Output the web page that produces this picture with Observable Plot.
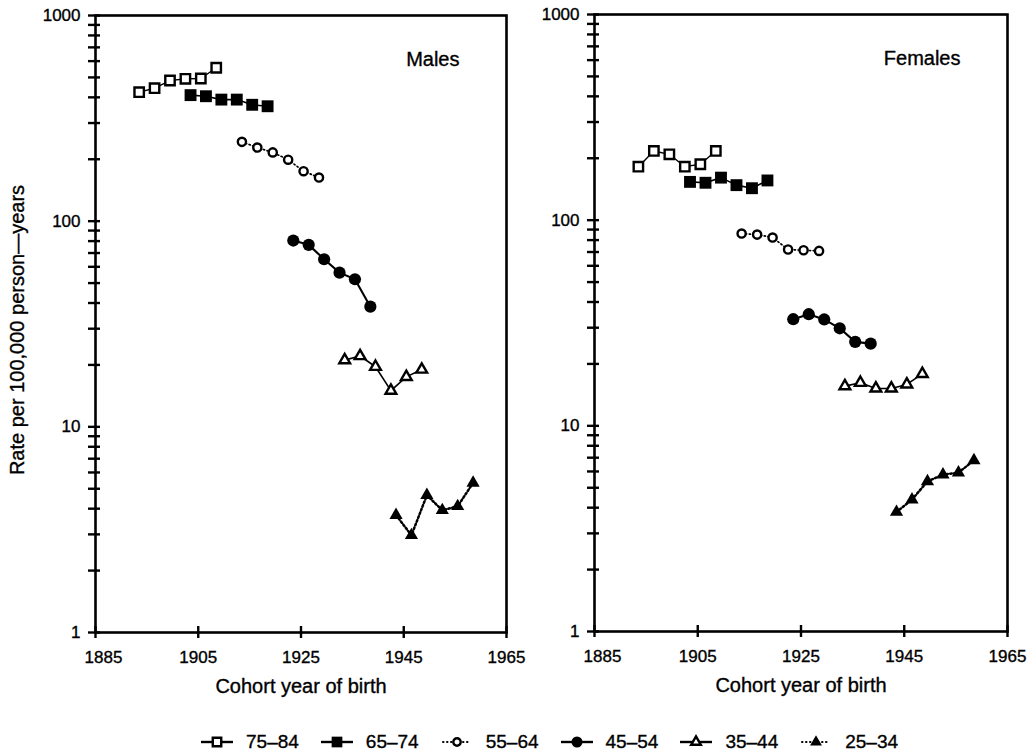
<!DOCTYPE html>
<html><head><meta charset="utf-8">
<script src="https://cdn.jsdelivr.net/npm/d3@7"></script>
<script src="https://cdn.jsdelivr.net/npm/@observablehq/plot@0.6"></script>
<style>
body{margin:0;background:#fff;font-family:"Liberation Sans",Arial,sans-serif;}
#wrap{position:relative;width:1031px;height:753px;overflow:hidden;}
#wrap svg text{stroke:#000;stroke-width:0.35px;}
#left{position:absolute;left:0;top:0}
#right{position:absolute;left:500px;top:0}
#legend{position:absolute;left:200px;top:731px;display:flex;align-items:center;font-size:19px;color:#000;white-space:nowrap;-webkit-text-stroke:0.35px #000;}
#legend .item{display:flex;align-items:center;margin-right:21px;}
#legend svg{margin-right:12px;overflow:visible}
</style></head><body>
<div id="wrap"><div id="left"></div><div id="right"></div><div id="legend"></div></div>
<script>
// ---- data ----
const ageGroups = ["75–84", "65–74", "55–64", "45–54", "35–44", "25–34"];
const panelTitles = ["Males", "Females"];

const years7584 = [1893.5, 1896.5, 1899.5, 1902.5, 1905.5, 1908.5];
const years6574 = [1903.5, 1906.5, 1909.5, 1912.5, 1915.5, 1918.5];
const years5564 = [1913.5, 1916.5, 1919.5, 1922.5, 1925.5, 1928.5];
const years4554 = [1923.5, 1926.5, 1929.5, 1932.5, 1935.5, 1938.5];
const years3544 = [1933.5, 1936.5, 1939.5, 1942.5, 1945.5, 1948.5];
const years2534 = [1943.5, 1946.5, 1949.5, 1952.5, 1955.5, 1958.5];

const males7584 = [424, 443, 483, 492, 494, 557];
const males6574 = [410, 405, 390, 390, 368, 362];
const males5564 = [243, 228, 216, 199, 175, 163];
const males4554 = [80.5, 76.7, 65.3, 56.2, 52.2, 38.4];
const males3544 = [21.1, 22.1, 19.6, 15.0, 17.5, 19.0];
const males2534 = [3.72, 2.97, 4.65, 3.93, 4.11, 5.34];

const females7584 = [182, 217, 209, 182, 187, 217];
const females6574 = [153.5, 152, 161, 148, 143, 156];
const females5564 = [86.1, 85.1, 82.3, 72, 71.4, 70.9];
const females4554 = [33.0, 34.9, 32.9, 29.8, 25.6, 25.1];
const females3544 = [15.6, 16.2, 15.2, 15.2, 15.9, 17.9];
const females2534 = [3.81, 4.38, 5.37, 5.79, 5.92, 6.79];

const xTickLabels = [1885, 1905, 1925, 1945, 1965];
const yTickLabels = [1, 10, 100, 1000];
const yMinorTicks = [2,3,4,5,6,7,8,9,20,30,40,50,60,70,80,90,200,300,400,500,600,700,800,900];
const xAxisLabel = "Cohort year of birth";
const yAxisLabel = "Rate per 100,000 person\u2014years";

// ---- styles ----
const seriesStyles = [
  {symbol: "square",   fill: "white", stroke: "black", sw: 2.4, r: 5.3, dash: null,      lw: 1.4},
  {symbol: "square",   fill: "black", stroke: "none",  sw: 0,   r: 6.7, dash: null,      lw: 1.6},
  {symbol: "circle",   fill: "white", stroke: "black", sw: 2.4, r: 4.1, dash: "1.2,2.6", lw: 1.7},
  {symbol: "circle",   fill: "black", stroke: "none",  sw: 0,   r: 6.1, dash: null,      lw: 2.1},
  {symbol: "triangle", fill: "white", stroke: "black", sw: 2.4, r: 4.0, dash: null,      lw: 1.6},
  {symbol: "triangle", fill: "black", stroke: "none",  sw: 0,   r: 4.9, dash: "1.6,2.4", lw: 2.5}
];

const cohortYears = [years7584, years6574, years5564, years4554, years3544, years2534];
const maleRates = [males7584, males6574, males5564, males4554, males3544, males2534];
const femaleRates = [females7584, females6574, females5564, females4554, females3544, females2534];

function panel(rates, title, cfg) {
  const innerW = cfg.width - cfg.marginLeft - cfg.marginRight;
  const innerH = cfg.height - cfg.marginTop - cfg.marginBottom;
  const marks = [];
  ageGroups.forEach((g, i) => {
    const data = cohortYears[i].map((x, k) => ({x, y: rates[i][k], age: g}));
    const s = seriesStyles[i];
    marks.push(Plot.line(data, {x: "x", y: "y", stroke: "black", strokeWidth: s.lw,
      strokeDasharray: s.dash, strokeLinecap: s.dash ? "round" : "butt"}));
  });
  ageGroups.forEach((g, i) => {
    const data = cohortYears[i].map((x, k) => ({x, y: rates[i][k], age: g}));
    const s = seriesStyles[i];
    marks.push(Plot.dot(data, {x: "x", y: "y", symbol: () => s.symbol, r: s.r, fill: s.fill,
      stroke: s.stroke, strokeWidth: s.sw}));
  });
  marks.push(
    Plot.frame({stroke: "black", strokeWidth: 2.6}),
    Plot.tickY(yTickLabels.concat(yMinorTicks), {y: d => d, dx: -7, insetRight: innerW - 12, stroke: "black", strokeWidth: 2.4}),
    Plot.tickX(xTickLabels, {x: d => d, dy: 6, insetTop: innerH - 12, stroke: "black", strokeWidth: 2.4}),
    Plot.axisY({ticks: yTickLabels, tickSize: 0, tickPadding: 15, fontSize: 17, label: null, tickFormat: d => String(d)}),
    Plot.axisX({ticks: xTickLabels.slice(1), tickSize: 0, tickPadding: 18, fontSize: 17, label: null, tickFormat: d => String(d)}),
    Plot.axisX({ticks: xTickLabels.slice(0, 1), tickSize: 0, tickPadding: 18, dx: 8, fontSize: 17, label: null, tickFormat: d => String(d)}),
    Plot.text([xAxisLabel], {frameAnchor: "bottom", dy: 54, fontSize: 20, textAnchor: "middle", lineAnchor: "middle", fill: "black"}),
    Plot.text([title], {frameAnchor: "top-right", dx: -47, dy: 44, fontSize: 20, textAnchor: "end", lineAnchor: "middle", fill: "black"})
  );
  if (cfg.yLabel) {
    marks.push(Plot.text([yAxisLabel], {frameAnchor: "left", dx: -78, dy: 6, rotate: -90, fontSize: 20,
      textAnchor: "middle", lineAnchor: "middle", fill: "black"}));
  }
  return Plot.plot({
    width: cfg.width, height: cfg.height,
    marginLeft: cfg.marginLeft, marginRight: cfg.marginRight,
    marginTop: cfg.marginTop, marginBottom: cfg.marginBottom,
    style: {background: "transparent", overflow: "visible", fontFamily: '"Liberation Sans", Arial, sans-serif', color: "black"},
    x: {domain: [1885, 1965], axis: null},
    y: {type: "log", domain: [1, 1000], axis: null},
    marks
  });
}

document.getElementById("left").append(panel(maleRates, panelTitles[0],
  {width: 520, height: 712, marginLeft: 95, marginRight: 14, marginTop: 15, marginBottom: 80, yLabel: true}));
document.getElementById("right").append(panel(femaleRates, panelTitles[1],
  {width: 531, height: 712, marginLeft: 94, marginRight: 24, marginTop: 14, marginBottom: 81, yLabel: false}));

// ---- legend ----
const legend = d3.select("#legend");
ageGroups.forEach((g, i) => {
  const s = seriesStyles[i];
  const item = legend.append("div").attr("class", "item");
  const svg = item.append("svg").attr("width", 34).attr("height", 20);
  if (s.dash) {
    svg.append("line").attr("x1", 3).attr("x2", 31).attr("y1", 10).attr("y2", 10)
      .attr("stroke", "black").attr("stroke-width", 2).attr("stroke-dasharray", "0.5,3.5").attr("stroke-linecap", "round");
  } else {
    svg.append("line").attr("x1", 1).attr("x2", 33).attr("y1", 10).attr("y2", 10)
      .attr("stroke", "black").attr("stroke-width", 2.4);
  }
  const sym = s.symbol === "square" ? d3.symbolSquare : s.symbol === "circle" ? d3.symbolCircle : d3.symbolTriangle;
  const lr = s.r * 0.9;
  svg.append("path").attr("transform", "translate(17,10)")
    .attr("d", d3.symbol(sym, lr * lr * Math.PI)())
    .attr("fill", s.fill).attr("stroke", s.stroke).attr("stroke-width", s.sw);
  item.append("span").text(g);
});
</script>
</body></html>
